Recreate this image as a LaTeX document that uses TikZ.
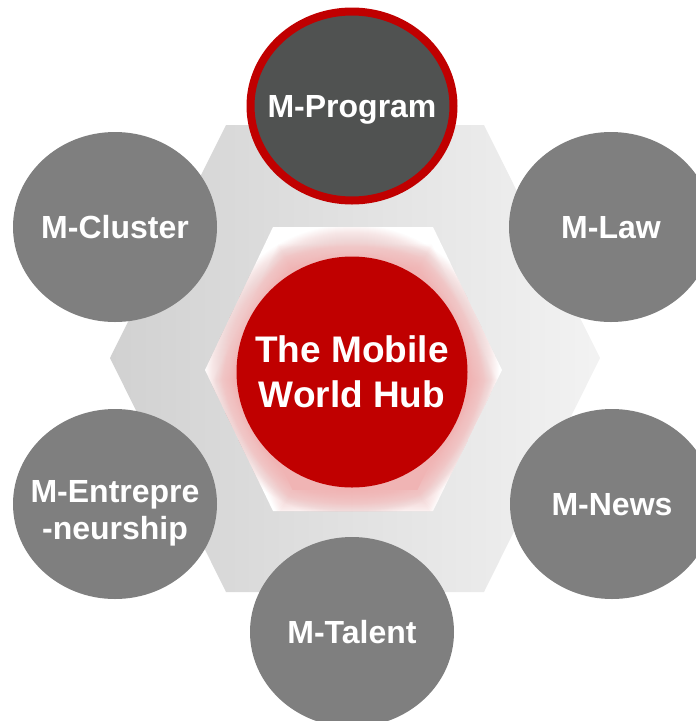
\documentclass[tikz,border=0pt]{standalone}
\usepackage{fontspec}
\setmainfont{Liberation Sans}
\usetikzlibrary{shapes.geometric}

\definecolor{hubred}{HTML}{C00000}
\definecolor{satgray}{HTML}{7F7F7F}
\definecolor{progdark}{HTML}{505251}
\definecolor{glowpink}{HTML}{F0B4B4}

\tikzset{
  sat/.style={ellipse, fill=satgray, text=white, inner sep=0pt,
    minimum width=204pt, minimum height=190pt,
    text height=23pt, text depth=0pt,
    font=\bfseries\fontsize{32}{37}\selectfont},
  hub/.style={circle, fill=hubred, text=white, inner sep=0pt,
    minimum size=231pt, font=\bfseries\fontsize{37}{45}\selectfont}
}

\newcommand{\twolines}[2]{\makebox[0pt]{\raisebox{-4pt}[\height][\depth]{%
  \begin{tabular}{@{}c@{}}#1\\#2\end{tabular}}}}

\begin{document}
\begin{tikzpicture}[x=1pt, y=-1pt]
  \useasboundingbox (0,0) rectangle (696,721);
  \clip (0,0) rectangle (696,721);

  % outer hexagon
  \shade[left color=black!18, right color=black!5]
    (110,358) -- (226,125) -- (484,125) -- (600,358) -- (484,592) -- (226,592) -- cycle;

  % inner hexagon with glow
  \begin{scope}
    \clip (205,370) -- (273,227) -- (433,227) -- (502,370) -- (433,511) -- (273,511) -- cycle;
    \fill[white] (200,220) rectangle (510,520);
    \foreach \r in {0,...,30}
      \fill[glowpink, opacity=0.04] (352,372) circle (147-\r);
    \foreach \s in {0.80,0.81,...,0.96}
      \fill[glowpink, opacity=0.05, shift={(355,380)}, scale=\s]
        (-148,0) -- (-80,-141) -- (80,-141) -- (148,0) -- (80,141) -- (-80,141) -- cycle;
    \fill[glowpink, shift={(355,380)}, scale=0.78]
      (-148,0) -- (-80,-141) -- (80,-141) -- (148,0) -- (80,141) -- (-80,141) -- cycle;
  \end{scope}

  % hub
  \node[hub] (hub) at (352,372) {\twolines{The Mobile}{World Hub}};

  % satellites
  \node[sat, fill=progdark, draw=hubred, line width=8pt,
    minimum width=203pt, minimum height=189pt] (program) at (352,106) {\makebox[0pt]{M-Program}};
  \node[sat] (cluster) at (115,227) {\makebox[0pt]{M-Cluster}};
  \node[sat] (law) at (611,227) {\makebox[0pt]{M-Law}};
  \node[sat] (entre) at (115,504) {\twolines{M-Entrepre}{-neurship}};
  \node[sat] (news) at (612,504) {\makebox[0pt]{M-News}};
  \node[sat] (talent) at (352,632) {\makebox[0pt]{M-Talent}};
\end{tikzpicture}
\end{document}
